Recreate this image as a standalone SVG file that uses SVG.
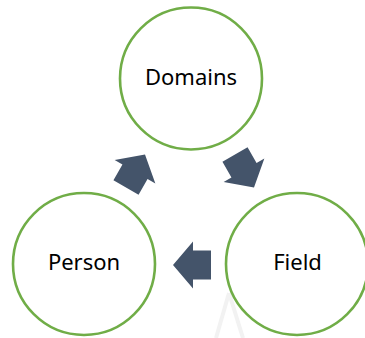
<svg xmlns="http://www.w3.org/2000/svg" width="365" height="338" viewBox="0 0 365 338">
  <style>
    .node circle { fill: #ffffff; stroke: #70ad47; stroke-width: 2.6; }
    .node text { font-family: "Noto Sans", "Open Sans", sans-serif; font-size: 22px; fill: #000000; text-anchor: middle; }
    .arrow { fill: #44546a; }
  </style>
  <defs>
    <!-- block arrow pointing along +x, centred on the origin -->
    <polygon id="blockArrow" points="19,0 -1,-23.5 -1,-14.5 -19,-14.5 -19,14.5 -1,14.5 -1,23.5"/>
  </defs>
  <rect width="365" height="338" fill="#ffffff"/>

  <!-- faint mark below the Field circle -->
  <path d="M229,293 L216,338 M229,293 L243,338" fill="none" stroke="#f2f2f2" stroke-width="4"/>

  <g id="connectors">
    <use href="#blockArrow" class="arrow" transform="translate(135.5,171) rotate(-60)"/>
    <use href="#blockArrow" class="arrow" transform="translate(244.5,171) rotate(60)"/>
    <use href="#blockArrow" class="arrow" transform="translate(192,265) rotate(180)"/>
  </g>

  <g id="domains" class="node">
    <circle cx="191" cy="78.5" r="71"/>
    <text x="191" y="84.5">Domains</text>
  </g>
  <g id="person" class="node">
    <circle cx="84" cy="264" r="71"/>
    <text x="84" y="270">Person</text>
  </g>
  <g id="field" class="node">
    <circle cx="297" cy="264" r="71"/>
    <text x="297.5" y="270">Field</text>
  </g>
</svg>
